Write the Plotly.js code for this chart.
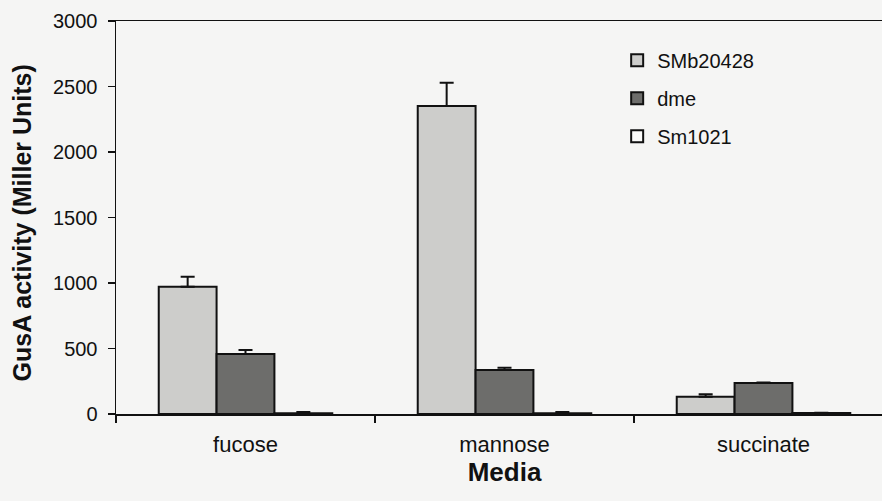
<!DOCTYPE html>
<html>
<head>
<meta charset="utf-8">
<script src="https://cdn.plot.ly/plotly-3.0.1.min.js"></script>
<style>
  html, body { margin: 0; padding: 0; overflow: hidden; background: #f5f5f4; }
  #chart { width: 900px; height: 501px; }
</style>
</head>
<body>
<div id="chart"></div>
<script>
// GusA reporter activity by growth medium
const media = ["fucose", "mannose", "succinate"];

const smb20428 = [972, 2351, 132];
const smb20428Err = [76, 178, 18];

const dme = [458, 336, 237];
const dmeErr = [31, 17, 4];

const sm1021 = [5, 5, 8];
const sm1021Err = [10, 10, 2];

const yTicks = [0, 500, 1000, 1500, 2000, 2500, 3000];

const FONT = "Liberation Sans, Arial, sans-serif";

// plot area spans 116px..893px horizontally
const PLOT_LEFT = 116, PLOT_W = 777;

function series(name, values, errs, fill, group) {
  return {
    type: "bar",
    name: name,
    x: media,
    y: values,
    legendgroup: group,
    marker: { color: fill, line: { color: "#111", width: 2 } },
    error_y: {
      type: "data",
      symmetric: false,
      array: errs,
      arrayminus: errs.map(() => 0),
      color: "#111",
      thickness: 2,
      width: 7
    },
    hoverinfo: "x+y+name"
  };
}

const data = [
  series("SMb20428", smb20428, smb20428Err, "#cdcdcb", "a"),
  series("dme", dme, dmeErr, "#6d6d6b", "b"),
  series("Sm1021", sm1021, sm1021Err, "#fbfbfa", "c")
];

const layout = {
  width: 900,
  height: 501,
  margin: { l: PLOT_LEFT, r: 900 - PLOT_LEFT - PLOT_W, t: 21, b: 87, pad: 0 },
  paper_bgcolor: "#f5f5f4",
  plot_bgcolor: "#f5f5f4",
  barmode: "group",
  bargap: 0.33,
  bargroupgap: 0,
  font: { family: FONT, color: "#111" },
  showlegend: true,
  legend: {
    x: 0.645, xanchor: "left",
    y: 0.95, yanchor: "top",
    bgcolor: "rgba(0,0,0,0)",
    font: { family: FONT, size: 20, color: "#111" },
    tracegroupgap: 9,
    traceorder: "grouped"
  },
  xaxis: {
    type: "category",
    range: [-0.5, 2.5],
    tickson: "boundaries",
    ticks: "outside",
    ticklen: 7,
    tickwidth: 1.5,
    tickcolor: "#111",
    showline: true,
    linecolor: "#111",
    linewidth: 1.5,
    mirror: true,
    showgrid: false,
    tickfont: { family: FONT, size: 22, color: "#111" },
    ticklabelstandoff: 10,
    title: { text: "<b>Media</b>", font: { family: FONT, size: 26, color: "#111" }, standoff: 6 }
  },
  yaxis: {
    range: [0, 3000],
    tickvals: yTicks,
    ticktext: yTicks.map(String),
    ticks: "outside",
    ticklen: 7,
    tickwidth: 1.5,
    tickcolor: "#111",
    showline: true,
    linecolor: "#111",
    linewidth: 1.5,
    showgrid: false,
    zeroline: false,
    tickfont: { family: FONT, size: 20, color: "#111" },
    ticklabelstandoff: 6
  },
  annotations: [{
    text: "<b>GusA activity (Miller Units)</b>",
    textangle: -90,
    xref: "paper", yref: "paper",
    x: (22 - PLOT_LEFT) / PLOT_W, y: 0.485,
    xanchor: "center", yanchor: "middle",
    showarrow: false,
    font: { family: FONT, size: 25, color: "#111" }
  }]
};

Plotly.newPlot("chart", data, layout, { displayModeBar: false, staticPlot: true });
</script>
</body>
</html>
